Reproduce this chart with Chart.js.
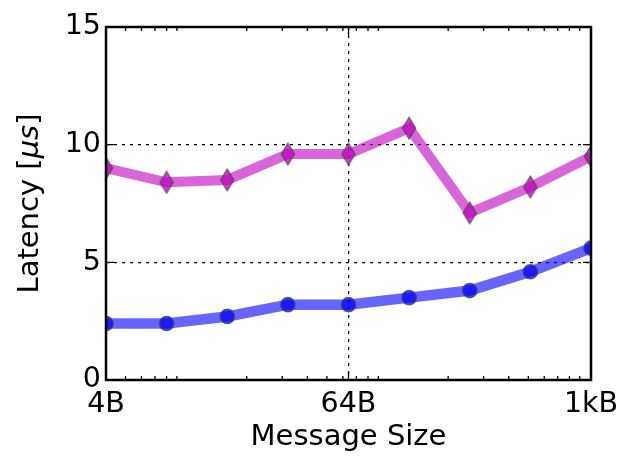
<!DOCTYPE html>
<html>
<head>
<meta charset="utf-8">
<script src="https://cdn.jsdelivr.net/npm/chart.js@4.4.1/dist/chart.umd.min.js"></script>
<style>
  html, body { margin: 0; padding: 0; background: #fff; }
  #wrap { width: 626px; height: 464px; }
</style>
</head>
<body>
<div id="wrap"><canvas id="chartCanvas" width="626" height="464"></canvas></div>
<script>
// message sizes in bytes (log axis)
const sizes = [4, 8, 16, 32, 64, 128, 256, 512, 1024];
const upperLatency = [9.0, 8.4, 8.5, 9.6, 9.6, 10.7, 7.1, 8.2, 9.5];
const lowerLatency = [2.4, 2.4, 2.7, 3.2, 3.2, 3.5, 3.8, 4.6, 5.6];

const xMajorTicks = [4, 64, 1024];
const xTickLabels = ['4B', '64B', '1kB'];
const xMinorTicks = [5, 6, 7, 8, 9, 20, 30, 40, 50, 60, 70, 80, 90, 200, 300, 400, 500, 600, 700, 800, 900];
const yTicks = [0, 5, 10, 15];

const FONT = "'DejaVu Sans', sans-serif";
const TITLE_SIZE = 29;

// thin diamond marker like matplotlib 'd'
const makeDiamond = () => {
  const c = document.createElement('canvas');
  c.width = 16;
  c.height = 24;
  const g = c.getContext('2d');
  g.beginPath();
  g.moveTo(8, 1.2);
  g.lineTo(14.6, 12);
  g.lineTo(8, 22.8);
  g.lineTo(1.4, 12);
  g.closePath();
  g.fillStyle = 'rgba(191, 0, 191, 0.75)';
  g.fill();
  g.lineWidth = 1.3;
  g.strokeStyle = 'rgba(70, 70, 70, 0.8)';
  g.stroke();
  return c;
};

const toPoints = (vals) => sizes.map((s, i) => ({ x: s, y: vals[i] }));

// frame + inward ticks on all four sides
const frameTicks = {
  id: 'frameTicks',
  afterDatasetsDraw(chart) {
    const { ctx, chartArea: a, scales: { x, y } } = chart;
    ctx.save();
    ctx.strokeStyle = '#000';
    ctx.lineWidth = 1.3;
    ctx.beginPath();
    xMinorTicks.forEach(v => {
      const px = x.getPixelForValue(v);
      ctx.moveTo(px, a.bottom); ctx.lineTo(px, a.bottom - 4);
      ctx.moveTo(px, a.top); ctx.lineTo(px, a.top + 4);
    });
    xMajorTicks.forEach(v => {
      const px = x.getPixelForValue(v);
      ctx.moveTo(px, a.bottom); ctx.lineTo(px, a.bottom - 8);
      ctx.moveTo(px, a.top); ctx.lineTo(px, a.top + 8);
    });
    yTicks.forEach(v => {
      const py = y.getPixelForValue(v);
      ctx.moveTo(a.left, py); ctx.lineTo(a.left + 8, py);
      ctx.moveTo(a.right, py); ctx.lineTo(a.right - 8, py);
    });
    ctx.stroke();
    ctx.lineWidth = 2.5;
    ctx.strokeRect(a.left, a.top, a.right - a.left, a.bottom - a.top);
    ctx.restore();
  }
};

// y title with italic "μs" (mathtext style)
const yTitle = {
  id: 'yTitle',
  afterDraw(chart) {
    const { ctx, chartArea: a } = chart;
    const parts = [
      { t: 'Latency [', f: `${TITLE_SIZE}px ${FONT}` },
      { t: 'μs', f: `italic ${TITLE_SIZE}px ${FONT}` },
      { t: ']', f: `${TITLE_SIZE}px ${FONT}` }
    ];
    ctx.save();
    let total = 0;
    parts.forEach(p => { ctx.font = p.f; p.w = ctx.measureText(p.t).width; total += p.w; });
    ctx.translate(30, (a.top + a.bottom) / 2);
    ctx.rotate(-Math.PI / 2);
    ctx.fillStyle = '#000';
    ctx.textBaseline = 'middle';
    ctx.textAlign = 'left';
    let cx = -total / 2;
    parts.forEach(p => { ctx.font = p.f; ctx.fillText(p.t, cx, 0); cx += p.w; });
    ctx.restore();
  }
};

const canvas = document.getElementById('chartCanvas');
const ctx = canvas.getContext('2d');

new Chart(ctx, {
  type: 'line',
  data: {
    datasets: [
      {
        label: 'upper',
        data: toPoints(upperLatency),
        borderColor: 'rgba(191, 0, 191, 0.6)',
        borderWidth: 10,
        pointStyle: makeDiamond(),
        pointRadius: 10,
        tension: 0,
        clip: 0
      },
      {
        label: 'lower',
        data: toPoints(lowerLatency),
        borderColor: 'rgba(0, 0, 255, 0.6)',
        borderWidth: 10.5,
        pointStyle: 'circle',
        pointRadius: 7.2,
        pointBackgroundColor: 'rgba(0, 0, 255, 0.75)',
        pointBorderColor: 'rgba(70, 70, 70, 0.8)',
        pointBorderWidth: 1.3,
        tension: 0,
        clip: 0
      }
    ]
  },
  options: {
    responsive: false,
    animation: false,
    events: [],
    layout: { padding: { top: 27, right: 35, left: 0, bottom: 0 } },
    plugins: {
      legend: { display: false },
      tooltip: { enabled: false }
    },
    scales: {
      x: {
        type: 'logarithmic',
        min: 4,
        max: 1024,
        afterBuildTicks: (scale) => { scale.ticks = xMajorTicks.map(v => ({ value: v })); },
        afterFit: (scale) => { scale.height = 84; },
        border: { display: false, dash: [3, 5] },
        grid: {
          drawTicks: false,
          color: (c) => (c.tick && c.tick.value === 64 ? '#000' : 'transparent'),
          lineWidth: 1.3
        },
        ticks: {
          autoSkip: false,
          maxRotation: 0,
          padding: 7,
          color: '#000',
          font: { family: FONT, size: 28.5 },
          callback: (v) => {
            const i = xMajorTicks.indexOf(v);
            return i >= 0 ? xTickLabels[i] : '';
          }
        },
        title: {
          display: true,
          text: 'Message Size',
          color: '#000',
          font: { family: FONT, size: TITLE_SIZE },
          padding: { top: 0, bottom: 9 }
        }
      },
      y: {
        min: 0,
        max: 15,
        afterBuildTicks: (scale) => { scale.ticks = yTicks.map(v => ({ value: v })); },
        afterFit: (scale) => { scale.width = 106; },
        border: { display: false, dash: [3, 5] },
        grid: {
          drawTicks: false,
          color: (c) => (c.tick && (c.tick.value === 5 || c.tick.value === 10) ? '#000' : 'transparent'),
          lineWidth: 1.3
        },
        ticks: {
          padding: 5,
          color: '#000',
          font: { family: FONT, size: 28.5 }
        },
        title: { display: false }
      }
    }
  },
  plugins: [frameTicks, yTitle]
});
</script>
</body>
</html>
